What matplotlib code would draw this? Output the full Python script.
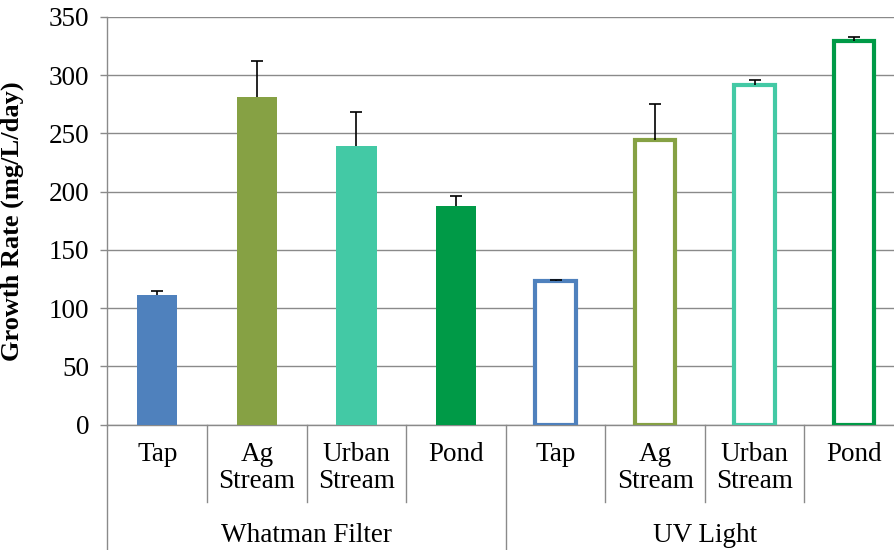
import matplotlib

matplotlib.use("Agg")
import matplotlib.pyplot as plt
import matplotlib.transforms as mtransforms

# data
groups = ["Whatman Filter", "UV Light"]
sources = ["Tap", "Ag\nStream", "Urban\nStream", "Pond"]
colors = ["#4F81BD", "#86A144", "#43C9A5", "#009A47"]
whatman_rate = [111, 281, 239, 188]
whatman_err = [4, 31, 29.5, 8]
uv_rate = [123, 244, 291.5, 329.5]
uv_err = [1.5, 31, 4, 3]

plt.rcParams["font.family"] = ["Liberation Serif", "DejaVu Serif"]
FS = 19.5

fig = plt.figure(figsize=(8.95, 5.5), dpi=100)
W, H = 895, 550
x0, x1, ytop, ybot = 107.5, 904.0, 17.0, 424.5
ax = fig.add_axes([x0 / W, (H - ybot) / H, (x1 - x0) / W, (ybot - ytop) / H])
ax_h = ybot - ytop

n = len(sources)
xs_w = list(range(n))
xs_uv = [i + n for i in range(n)]
bw = 0.405
err_kw = dict(ecolor="black", elinewidth=1.2, capsize=4.3, capthick=1.2)

bars_w = ax.bar(xs_w, whatman_rate, width=bw, color=colors,
                yerr=[[0] * n, whatman_err], error_kw=err_kw, zorder=3)
bars_uv = ax.bar(xs_uv, uv_rate, width=bw, facecolor="white", edgecolor=colors,
                 linewidth=3.0, yerr=[[0] * n, uv_err], error_kw=err_kw, zorder=3)

# only the "plus" side of each error bar gets a cap
for bc in (bars_w, bars_uv):
    caps = bc.errorbar.lines[1]
    if len(caps) == 2:
        lower = min(caps, key=lambda c: sum(c.get_ydata()))
        lower.set_visible(False)

ax.set_xlim(-0.5, 2 * n - 0.5)
ax.set_ylim(0, 350)
ax.set_yticks(range(0, 351, 50))
ax.yaxis.grid(True, color="#8a8a8a", linewidth=1.0, zorder=0)
ax.set_axisbelow(True)
ax.tick_params(axis="y", direction="out", length=5, width=1.0, color="#8a8a8a",
               labelsize=FS, pad=8)
ax.set_xticks([])
for side in ["top", "right"]:
    ax.spines[side].set_visible(False)
for side in ["left", "bottom"]:
    ax.spines[side].set_color("#8a8a8a")
    ax.spines[side].set_linewidth(1.0)

ax.set_ylabel("Growth Rate (mg/L/day)", fontsize=19, fontweight="bold")
ax.yaxis.set_label_coords((24 - x0) / (x1 - x0), 0.5)

# multi-level category axis
trans = mtransforms.blended_transform_factory(ax.transData, ax.transAxes)
sep_low = -(502 - ybot) / ax_h
grp_low = -(H - ybot + 5) / ax_h
for k in range(1, 2 * n):
    low = grp_low if k == n else sep_low
    ax.plot([k - 0.5, k - 0.5], [0, low], color="#8a8a8a", lw=1.0,
            transform=trans, clip_on=False)
ax.plot([-0.5, -0.5], [0, grp_low], color="#8a8a8a", lw=1.0,
        transform=trans, clip_on=False)

lab_top = -(442 - ybot) / ax_h
for xi, name in zip(xs_w + xs_uv, sources + sources):
    ax.text(xi, lab_top, name, transform=trans, ha="center", va="top",
            fontsize=FS, linespacing=1.08)

grp_y = -(542.5 - ybot) / ax_h
for gi, g in enumerate(groups):
    ax.text(gi * n + (n - 1) / 2, grp_y, g, transform=trans, ha="center",
            va="baseline", fontsize=FS)

fig.savefig("out.png", dpi=100)
